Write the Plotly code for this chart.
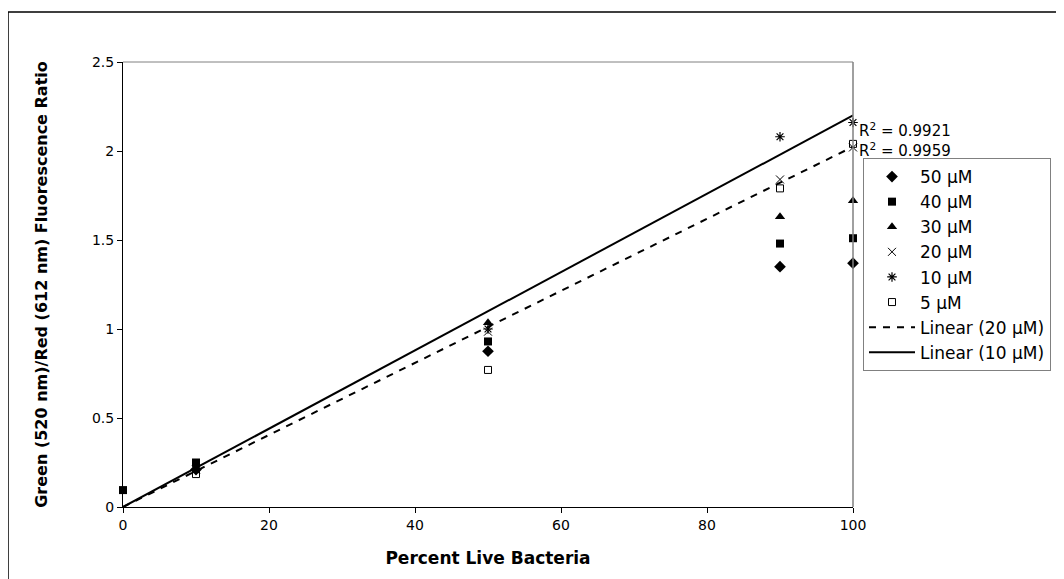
import numpy as np
import plotly.graph_objects as go

# ---- data ----
pct_live = [10, 50, 90, 100]
s50 = [0.21, 0.875, 1.35, 1.37]
s40_x = [0, 10, 50, 90, 100]
s40 = [0.095, 0.25, 0.93, 1.48, 1.51]
s30 = [0.22, 1.035, 1.63, 1.72]
s20 = [0.21, 0.985, 1.84, 2.02]
s10 = [0.21, 1.00, 2.08, 2.16]
s5 = [0.185, 0.77, 1.79, 2.04]
r2_labels = ["R<sup>2</sup> = 0.9921", "R<sup>2</sup> = 0.9959"]
r2_y = [2.12, 2.005]
series_names = ["50 µM", "40 µM", "30 µM", "20 µM", "10 µM", "5 µM"]

FONT = "DejaVu Sans, Liberation Sans, Arial, sans-serif"
W, H = 1064, 579
# page has an 8px body margin; plot area in page coords is 123..853 x 62..507
L, T = 115, 54
pw, ph = 730, 445
R = W - L - pw
B = H - T - ph

fig = go.Figure()

def add_pts(x, y, name, symbol, size, lw=1):
    fig.add_trace(go.Scatter(
        x=x, y=y, mode="markers", name=name,
        marker=dict(symbol=symbol, size=size, color="black",
                    line=dict(color="black", width=lw)),
        cliponaxis=False))

add_pts(pct_live, s50, series_names[0], "diamond", 9, 0)
add_pts(s40_x, s40, series_names[1], "square", 8, 0)
add_pts(pct_live, s30, series_names[2], "triangle-up", 9, 0)
add_pts(pct_live, s20, series_names[3], "x-thin-open", 8, 1)
add_pts(pct_live, s10, series_names[4], "asterisk-open", 8, 1.2)
add_pts(pct_live, s5, series_names[5], "square-open", 7, 1)

# linear trendlines through origin (least squares, intercept fixed at 0)
def fit0(x, y):
    x = np.asarray(x, float); y = np.asarray(y, float)
    return float((x * y).sum() / (x * x).sum())

tx = np.array([0.0, max(pct_live)])
k20 = fit0(pct_live, s20)
k10 = fit0(pct_live, s10)
fig.add_trace(go.Scatter(x=tx, y=k20 * tx, mode="lines", name="Linear (20 µM)",
                         line=dict(color="black", width=2, dash="7px,7px")))
fig.add_trace(go.Scatter(x=tx, y=k10 * tx, mode="lines", name="Linear (10 µM)",
                         line=dict(color="black", width=2)))

for txt, yy in zip(r2_labels, r2_y):
    fig.add_annotation(x=100, y=yy, text=txt, showarrow=False, xanchor="left",
                       yanchor="middle", xshift=4,
                       font=dict(family=FONT, size=15, color="black"))

def px_x(p):  # page px -> paper
    return (p - 8 - L) / pw

def px_y(p):
    return (T + ph - (p - 8)) / ph

shapes = [
    # outer chart border
    dict(type="rect", xref="paper", yref="paper", x0=px_x(8), x1=px_x(W + 40),
         y0=px_y(H + 40), y1=px_y(12), line=dict(color="black", width=1.5)),
    # plot area top/right border
    dict(type="line", xref="paper", yref="paper", x0=0, x1=1, y0=1, y1=1,
         line=dict(color="#808080", width=1)),
    dict(type="line", xref="paper", yref="paper", x0=1, x1=1, y0=0, y1=1,
         line=dict(color="#808080", width=1.5)),
]

fig.update_layout(
    width=W, height=H,
    margin=dict(l=L, r=R, t=T, b=B, autoexpand=False),
    paper_bgcolor="white", plot_bgcolor="white",
    font=dict(family=FONT, size=14, color="black"),
    shapes=shapes,
    showlegend=True,
    legend=dict(x=px_x(863), y=px_y(158), xanchor="left", yanchor="top",
                bordercolor="#808080", borderwidth=1, bgcolor="white",
                font=dict(family=FONT, size=17), itemwidth=46),
    xaxis=dict(range=[0, 100], dtick=20, showgrid=False, zeroline=False,
               showline=True, linecolor="black", linewidth=1,
               ticks="outside", ticklen=5, tickcolor="black",
               tickfont=dict(size=14),
               title=dict(text="<b>Percent Live Bacteria</b>", standoff=20,
                          font=dict(size=17))),
    yaxis=dict(range=[0, 2.5], dtick=0.5, showgrid=False, zeroline=False,
               showline=True, linecolor="black", linewidth=1,
               ticks="outside", ticklen=5, tickcolor="black",
               tickfont=dict(size=14),
               title=dict(text="<b>Green (520 nm)/Red (612 nm) Fluorescence Ratio</b>",
                          standoff=40, font=dict(size=16))),
)

fig.write_html("out.html")
